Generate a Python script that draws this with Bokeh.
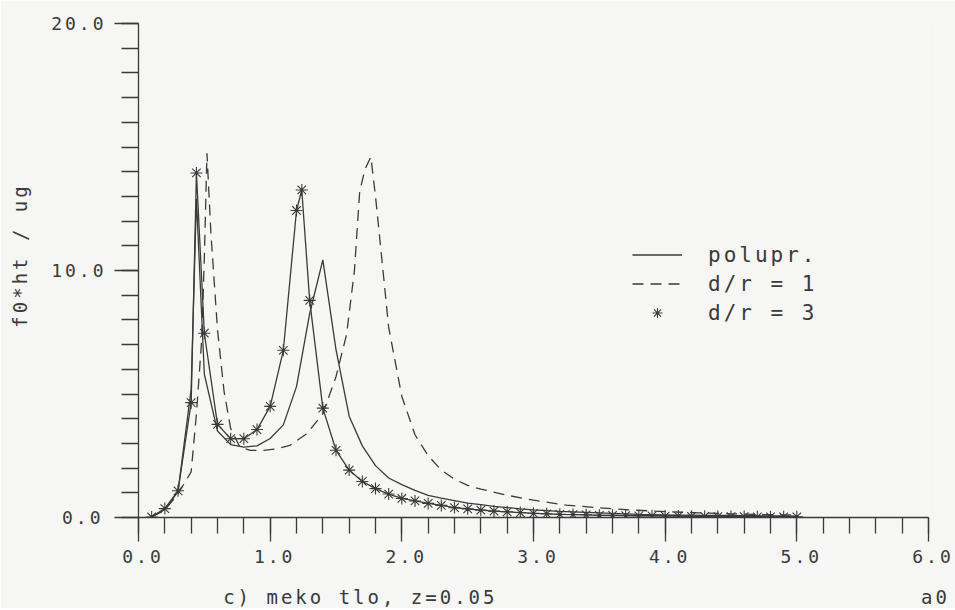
from bokeh.plotting import figure
from bokeh.models import Range1d, Legend, LegendItem, Label, FixedTicker, InlineStyleSheet
from bokeh.embed import file_html
from bokeh.resources import INLINE

# ---- data ----
# half-space ("polupr.") - solid line
a0_half = [0.1, 0.2, 0.3, 0.4, 0.44, 0.5, 0.6, 0.7, 0.8, 0.9, 1.0, 1.1, 1.2, 1.3, 1.4,
           1.5, 1.6, 1.7, 1.8, 1.9, 2.0, 2.1, 2.2, 2.3, 2.4, 2.5, 2.6, 2.7, 2.8, 2.9,
           3.0, 3.1, 3.2, 3.3, 3.4, 3.5, 3.6, 3.7, 3.8, 3.9, 4.0, 4.1, 4.2, 4.3, 4.4,
           4.5, 4.6, 4.7, 4.8, 4.9, 5.0]
fh_half = [0.05, 0.33, 1.05, 5.2, 12.9, 5.8, 3.5, 2.95, 2.85, 2.9, 3.2, 3.75, 5.3, 8.25, 10.43,
           6.8, 4.1, 2.9, 2.1, 1.6, 1.33, 1.1, 0.9, 0.78, 0.68, 0.58, 0.52, 0.45, 0.40, 0.35,
           0.31, 0.28, 0.25, 0.23, 0.21, 0.19, 0.17, 0.15, 0.13, 0.12, 0.11, 0.10, 0.10, 0.09, 0.08,
           0.08, 0.07, 0.07, 0.06, 0.06, 0.05]

# d/r = 1 - dashed line
a0_d1 = [0.1, 0.2, 0.3, 0.4, 0.44, 0.48, 0.5, 0.52, 0.55, 0.6, 0.65, 0.7, 0.77, 0.85, 0.95,
         1.05, 1.15, 1.28, 1.4, 1.5, 1.58, 1.64, 1.68, 1.72, 1.765, 1.8, 1.84, 1.9, 2.0, 2.1,
         2.2, 2.3, 2.4, 2.5, 2.6, 2.8, 3.0, 3.25, 3.5, 3.75, 4.0, 4.25, 4.5, 4.75, 5.0]
fh_d1 = [0.02, 0.3, 0.95, 1.85, 4.2, 7.2, 10.5, 14.75, 11.5, 7.6, 5.1, 3.6, 2.85, 2.72, 2.72,
         2.78, 2.92, 3.4, 4.2, 5.7, 7.4, 10.0, 13.2, 14.1, 14.6, 13.0, 10.9, 7.7, 4.9, 3.35,
         2.5, 1.92, 1.55, 1.3, 1.15, 0.9, 0.7, 0.5, 0.39, 0.3, 0.24, 0.19, 0.15, 0.12, 0.1]

# d/r = 3 - solid line with asterisks
a0_d3 = [0.1, 0.2, 0.3, 0.4, 0.44, 0.5, 0.6, 0.7, 0.8, 0.9, 1.0, 1.1, 1.2, 1.24, 1.3, 1.4,
         1.5, 1.6, 1.7, 1.8, 1.9, 2.0, 2.1, 2.2, 2.3, 2.4, 2.5, 2.6, 2.7, 2.8, 2.9,
         3.0, 3.1, 3.2, 3.3, 3.4, 3.5, 3.6, 3.7, 3.8, 3.9, 4.0, 4.1, 4.2, 4.3, 4.4,
         4.5, 4.6, 4.7, 4.8, 4.9, 5.0]
fh_d3 = [0.02, 0.36, 1.08, 4.65, 13.95, 7.46, 3.77, 3.19, 3.19, 3.56, 4.5, 6.77, 12.43, 13.26, 8.79, 4.43,
         2.72, 1.92, 1.46, 1.17, 0.95, 0.77, 0.67, 0.57, 0.49, 0.40, 0.35, 0.30, 0.26, 0.23, 0.20,
         0.17, 0.15, 0.13, 0.12, 0.11, 0.09, 0.09, 0.08, 0.07, 0.07, 0.06, 0.06, 0.05, 0.05, 0.04,
         0.04, 0.04, 0.03, 0.03, 0.03, 0.03]

series_labels = ["polupr.", "d/r = 1", "d/r = 3"]

x_ticks = [0, 1, 2, 3, 4, 5, 6]
x_tick_labels = ["0.0", "1.0", "2.0", "3.0", "4.0", "5.0", "6.0"]
y_ticks = [0, 10, 20]
y_tick_labels = ["0.0", "10.0", "20.0"]

x_title = "c) meko tlo, z=0.05"
x_var = "a0"
y_title = "f0*ht / ug"

# ---- style ----
INK = "#3a3a3a"
PAPER = "#f6f6f4"
FONT = "DejaVu Sans Mono"

p = figure(width=955, height=608, output_backend="svg", toolbar_location=None,
           x_range=Range1d(0, 6), y_range=Range1d(0, 20),
           min_border_left=138, min_border_right=27, min_border_top=23, min_border_bottom=91,
           background_fill_color=PAPER, border_fill_color=PAPER)
p.stylesheets = [InlineStyleSheet(css=":host { letter-spacing: 3px; }")]
p.outline_line_color = None
p.xgrid.visible = False
p.ygrid.visible = False

p.xaxis.ticker = FixedTicker(ticks=x_ticks, minor_ticks=[i * 0.2 for i in range(31)])
p.xaxis.major_label_overrides = {t: l for t, l in zip(x_ticks, x_tick_labels)}
p.yaxis.ticker = FixedTicker(ticks=y_ticks, minor_ticks=list(range(21)))
p.yaxis.major_label_overrides = {t: l for t, l in zip(y_ticks, y_tick_labels)}

for ax in (p.xaxis[0], p.yaxis[0]):
    ax.axis_line_color = INK
    ax.axis_line_width = 1.3
    ax.major_tick_line_color = INK
    ax.minor_tick_line_color = INK
    ax.major_tick_line_width = 1.3
    ax.minor_tick_line_width = 1.3
    ax.major_tick_in = 0
    ax.minor_tick_in = 0
    ax.major_tick_out = 24
    ax.major_label_text_font = FONT
    ax.major_label_text_font_size = "18px"
    ax.major_label_text_color = INK
p.xaxis.minor_tick_out = 16
p.yaxis.minor_tick_out = 17
p.xaxis.major_label_standoff = 8
p.yaxis.major_label_standoff = 20

p.yaxis.axis_label = y_title
p.yaxis.axis_label_text_font = FONT
p.yaxis.axis_label_text_font_size = "19px"
p.yaxis.axis_label_text_font_style = "normal"
p.yaxis.axis_label_text_color = INK
p.yaxis.axis_label_standoff = 17

r1 = p.line(a0_half, fh_half, line_color=INK, line_width=1.3)
r2 = p.line(a0_d1, fh_d1, line_color=INK, line_width=1.3, line_dash="11 7")
p.line(a0_d3, fh_d3, line_color=INK, line_width=1.3)
r3 = p.scatter(a0_d3, fh_d3, marker="asterisk", size=12, line_color=INK, line_width=1.1)

legend = Legend(items=[LegendItem(label=series_labels[0], renderers=[r1]),
                       LegendItem(label=series_labels[1], renderers=[r2]),
                       LegendItem(label=series_labels[2], renderers=[r3])],
                location=(494, 192), orientation="vertical",
                glyph_width=50, glyph_height=25, label_height=25, spacing=4,
                padding=0, margin=0, label_standoff=26,
                label_text_font=FONT, label_text_font_size="21px", label_text_color=INK,
                background_fill_alpha=0, border_line_alpha=0)
p.add_layout(legend, "center")

p.add_layout(Label(x=0.643, y=-3.2, text=x_title, text_align="left", text_baseline="middle",
                   text_font=FONT, text_font_size="19px", text_color=INK), "below")
p.add_layout(Label(x=5.943, y=-3.2, text=x_var, text_align="left", text_baseline="middle",
                   text_font=FONT, text_font_size="19px", text_color=INK), "right")

open("out.html", "w").write(file_html(p, INLINE))
